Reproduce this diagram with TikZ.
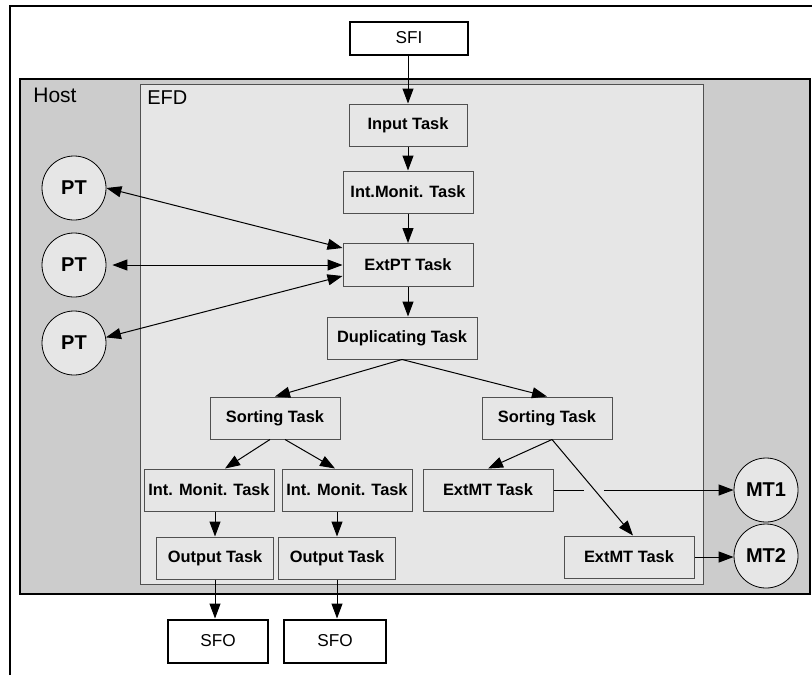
\documentclass[tikz,border=0pt]{standalone}
\usepackage{fontspec}
\setmainfont{Liberation Sans}
\definecolor{hostgray}{HTML}{CCCCCC}
\definecolor{efdgray}{HTML}{E6E6E6}
\definecolor{linegray}{HTML}{505050}
\usetikzlibrary{arrows.meta,calc}

\begin{document}
\begin{tikzpicture}[x=0.5pt,y=-0.5pt,
    >={Triangle[length=7.5pt,width=5.5pt]},
    task/.style={draw=linegray,fill=efdgray,line width=0.5pt,minimum width=65pt,minimum height=21pt,inner sep=0pt,font=\fontsize{8.2}{10}\selectfont\bfseries},
    endbox/.style={draw=black,fill=white,line width=1pt,minimum width=50pt,minimum height=21.5pt,inner sep=0pt,font=\fontsize{8.6}{10}\selectfont},
    proc/.style={circle,draw=black,fill=efdgray,line width=0.4pt,minimum size=32pt,inner sep=0pt,font=\fontsize{10}{12}\selectfont\bfseries},
    flow/.style={->,line width=0.5pt}]
    \useasboundingbox (0,0) rectangle (812,675);
    % frame and containers
    \draw[line width=0.6pt] (10,675) -- (10,6) -- (812,6);
    \draw[fill=hostgray,line width=1.2pt] (20,79) rectangle (810,594);
    \draw[fill=efdgray,draw=linegray,line width=0.5pt] (140,84) rectangle (703,584);
    \node[anchor=base west,inner sep=0pt,font=\fontsize{10.5}{12}\selectfont] (hostlbl) at (33,102) {Host};
    \node[anchor=base west,inner sep=0pt,font=\fontsize{10}{12}\selectfont] (efdlbl) at (147,104) {EFD};
    % tasks
    \node[endbox,minimum width=59pt,minimum height=16.5pt] (sfi) at (409,38) {SFI};
    \node[task,minimum width=59pt] (input) at (408,125) {Input Task};
    \node[task] (intmon) at (408,192) {Int.Monit. Task};
    \node[task,minimum height=21.5pt] (extpt) at (408,265) {ExtPT Task};
    \node[task,minimum width=75pt] (dup) at (402,338) {Duplicating Task};
    \node[task] (sortL) at (275,418) {Sorting Task};
    \node[task] (sortR) at (547,418) {Sorting Task};
    \node[task] (imL) at (209,490) {Int. Monit. Task};
    \node[task] (imR) at (347,490) {Int. Monit. Task};
    \node[task] (extmtA) at (488,490) {ExtMT Task};
    \node[task] (extmtB) at (629,557) {ExtMT Task};
    \node[task,minimum width=58.5pt] (outL) at (215,558) {Output Task};
    \node[task,minimum width=58.5pt] (outR) at (337,558) {Output Task};
    \node[endbox] (sfoL) at (218,641) {SFO};
    \node[endbox,minimum width=51pt] (sfoR) at (335,641) {SFO};
    % processes
    \node[proc] (pt1) at (74,188) {PT};
    \node[proc] (pt2) at (74,265) {PT};
    \node[proc] (pt3) at (74,343) {PT};
    \node[proc] (mt1) at (766,490) {MT1};
    \node[proc] (mt2) at (766,556) {MT2};
    % flows
    \draw[flow] (sfi.south -| input.north) -- (input.north);
    \draw[flow] (input) -- (intmon);
    \draw[flow] (intmon) -- (extpt);
    \draw[flow] (extpt.south) -- (extpt.south |- dup.north);
    \draw[flow] (dup.south) -- (sortL.north);
    \draw[flow] (dup.south) -- (sortR.north);
    \draw[<->,line width=0.5pt] (pt1.east) -- ([yshift=8.5pt]extpt.west);
    \draw[<->,line width=0.5pt] ([xshift=3pt]pt2.east) -- (extpt.west);
    \draw[<->,line width=0.5pt] (pt3.10) -- ([yshift=-5.5pt]extpt.west);
    \draw[flow] ([xshift=-2.5pt]sortL.south) -- ([xshift=8pt]imL.north);
    \draw[flow] ([xshift=5pt]sortL.south) -- ([xshift=-6pt]imR.north);
    \draw[flow] (outL.north |- imL.south) -- (outL.north);
    \draw[flow] (outR.north |- imR.south) -- (outR.north);
    \draw[flow] (outL.south) -- (outL.south |- sfoL.north);
    \draw[flow] (outR.south) -- (outR.south |- sfoR.north);
    \draw[flow] ([xshift=2.5pt]sortR.south) -- (extmtA.north);
    \draw[flow] ([xshift=2.5pt]sortR.south) -- ([xshift=2pt]extmtB.north);
    \draw[line width=0.5pt] (extmtA.east) -- ($(extmtA.east)!0.17!(mt1.west)$);
    \draw[flow] ($(extmtA.east)!0.28!(mt1.west)$) -- (mt1.west);
    \draw[flow] (extmtB.east) -- (extmtB.east -| mt2.west);
\end{tikzpicture}
\end{document}
